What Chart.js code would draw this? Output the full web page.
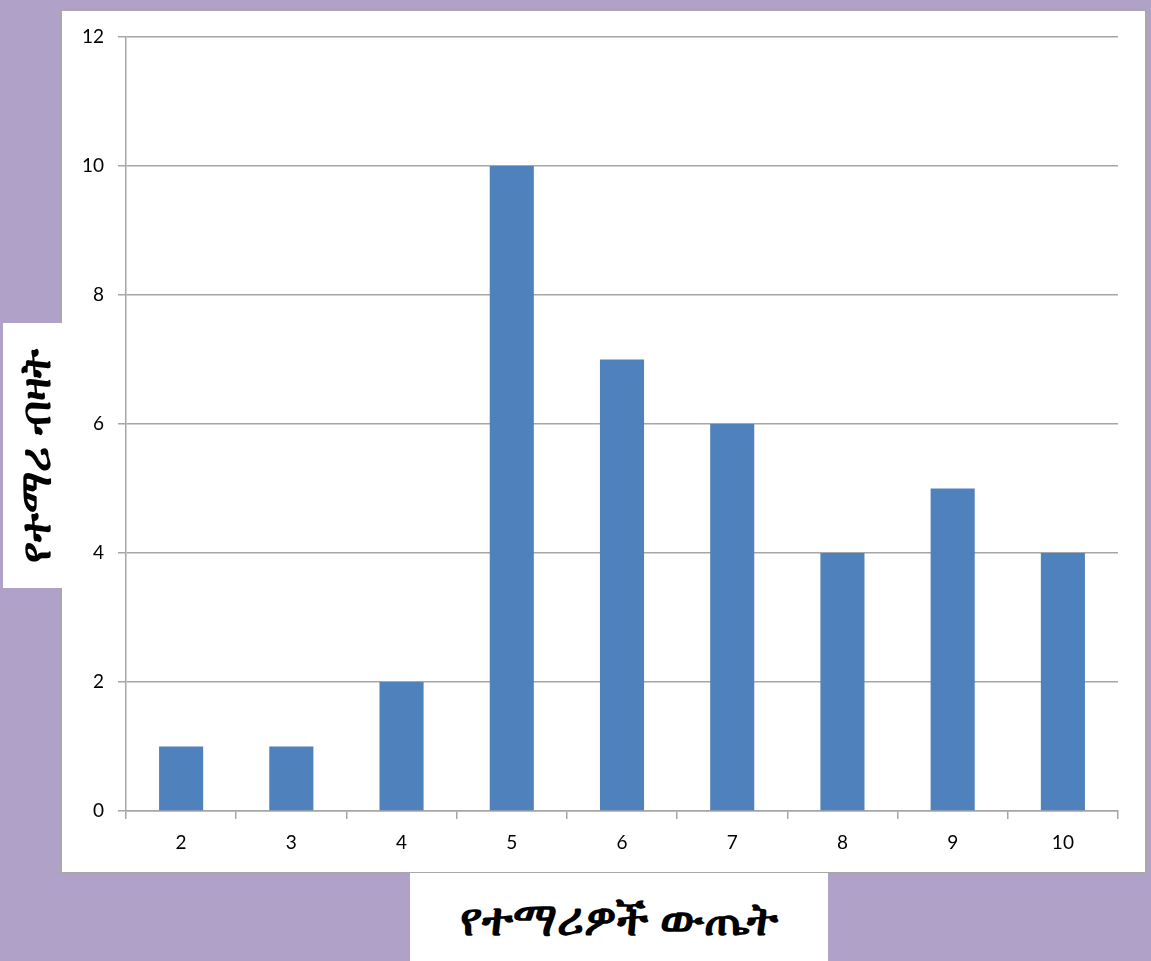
<!DOCTYPE html>
<html>
<head>
<meta charset="utf-8">
<script src="https://cdn.jsdelivr.net/npm/chart.js@4"></script>
<style>
  html, body { margin: 0; padding: 0; }
  body { width: 1151px; height: 961px; background: #b0a1c8; position: relative; overflow: hidden; }
  #box { position: absolute; left: 60px; top: 9px; width: 1083px; height: 861px; background: #fff; border: 2px solid #a8a8a8; }
  #canvasWrap { position: absolute; left: 0; top: 0; width: 1151px; height: 961px; }
  .tbox { position: absolute; background: #fff; font-family: "Noto Sans", "DejaVu Sans", sans-serif; font-weight: bold; color: #000; }
  #xTitleBox { left: 410px; top: 873px; width: 418px; height: 88px; }
  #yTitleBox { left: 3px; top: 323px; width: 59px; height: 265px; }
  #xTitle { position: absolute; left: 0; right: 0; top: 14px; text-align: center; font-size: 46px; line-height: 60px; }
  #yTitle { position: absolute; left: 31px; top: 133px; width: 300px; margin-left: -150px; margin-top: -30px; text-align: center; font-size: 43px; line-height: 60px; transform: rotate(-90deg); }
</style>
</head>
<body>
<div id="box"></div>
<div id="canvasWrap"><canvas id="myChart" width="1151" height="961"></canvas></div>
<div class="tbox" id="yTitleBox"><div id="yTitle">የተማሪ ብዛት</div></div>
<div class="tbox" id="xTitleBox"><div id="xTitle">የተማሪዎች ውጤት</div></div>
<script>
// data
const scores = ['2', '3', '4', '5', '6', '7', '8', '9', '10'];
const studentCounts = [1, 1, 2, 10, 7, 6, 4, 5, 4];
const yTicks = [0, 2, 4, 6, 8, 10, 12];

const gridColor = '#a6a6a6';

// config
const config = {
    type: 'bar',
    data: {
        labels: scores,
        datasets: [{
            data: studentCounts,
            backgroundColor: '#4f81bd',
            borderWidth: 0,
            barPercentage: 0.4,
            categoryPercentage: 1
        }]
    },
    options: {
        responsive: false,
        animation: false,
        layout: { padding: { top: 37, right: 33, left: 0, bottom: 0 } },
        plugins: { legend: { display: false }, tooltip: { enabled: false } },
        scales: {
            x: {
                offset: true,
                grid: {
                    offset: true,
                    drawOnChartArea: false,
                    drawTicks: true,
                    tickLength: 8,
                    color: gridColor,
                    lineWidth: 1.5
                },
                border: { color: gridColor, width: 1.5 },
                ticks: {
                    color: '#000',
                    padding: 12,
                    font: { family: 'Lato', size: 19 }
                },
                afterFit: (s) => { s.height = 150; }
            },
            y: {
                min: 0,
                max: 12,
                afterBuildTicks: (s) => { s.ticks = yTicks.map(v => ({ value: v })); },
                grid: {
                    color: gridColor,
                    lineWidth: 1.5,
                    tickLength: 8
                },
                border: { color: gridColor, width: 1.5 },
                ticks: {
                    color: '#000',
                    padding: 14,
                    font: { family: 'Lato', size: 19 }
                },
                afterFit: (s) => { s.width = 126; }
            }
        }
    }
};

// render init block
const myChart = new Chart(document.getElementById('myChart'), config);
</script>
</body>
</html>
